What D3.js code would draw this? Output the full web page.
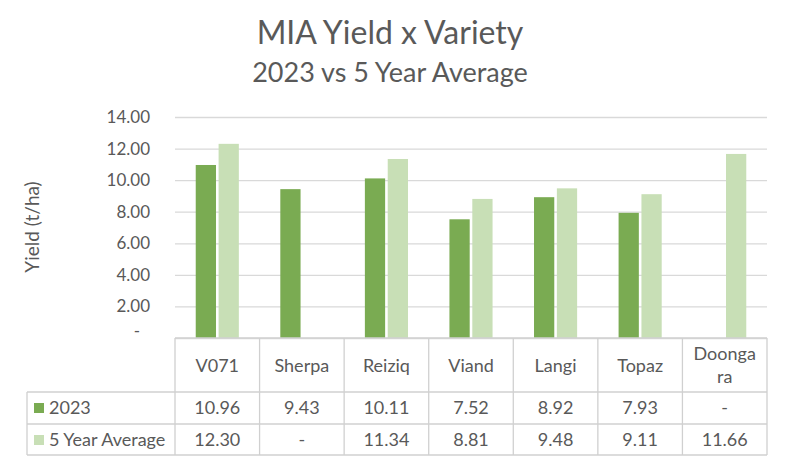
<!DOCTYPE html>
<html><head><meta charset="utf-8">
<script src="https://cdn.jsdelivr.net/npm/d3@7"></script>
<style>body{margin:0;background:#fff}svg{display:block}text{font-family:Lato,"Open Sans",sans-serif;fill:#595959}</style>
</head><body>
<svg id="c" width="785" height="462"></svg>
<script>
const categories = ["V071","Sherpa","Reiziq","Viand","Langi","Topaz","Doongara"];
const categoryLabels = [["V071"],["Sherpa"],["Reiziq"],["Viand"],["Langi"],["Topaz"],["Doonga","ra"]];
const seriesNames = ["2023","5 Year Average"];
const values2023 = [10.96, 9.43, 10.11, 7.52, 8.92, 7.93, null];
const valuesAvg = [12.30, null, 11.34, 8.81, 9.48, 9.11, 11.66];
const yTicks = [0,2,4,6,8,10,12,14];
const colors = ["#7aab52","#c8dfb6"];

(function(){
const svg = d3.select("#c");
const pL = 175, pR = 767, pT = 117, pB = 338;
const x = d3.scaleBand().domain(categories).range([pL, pR]).padding(0);
const x1 = d3.scaleBand().domain(seriesNames).range([0, x.bandwidth()]).paddingInner(0.114).paddingOuter(0.907);
const y = d3.scaleLinear().domain([0,14]).range([pB, pT]);
const seriesVals = [values2023, valuesAvg];

svg.append("text").attr("x",390).attr("y",44).attr("text-anchor","middle").style("font-size","32px").text("MIA Yield x Variety");
svg.append("text").attr("x",390).attr("y",82).attr("text-anchor","middle").style("font-size","27px").text("2023 vs 5 Year Average");

const yAxis = d3.axisLeft(y).tickValues(yTicks).tickSize(-(pR-pL)).tickFormat(d => d===0 ? "-" : d.toFixed(2));
const ga = svg.append("g").attr("transform",`translate(${pL},0)`).call(yAxis);
ga.select(".domain").remove();
ga.selectAll(".tick line").attr("stroke","#d9d9d9").attr("stroke-width",1.3);
ga.selectAll(".tick text").attr("x",-25).style("font-size","17px").attr("fill","#595959").style("font-family","Lato,'Open Sans',sans-serif");
ga.selectAll(".tick").filter(d=>d===0).select("text").attr("x",-35).attr("dy","-0.1em");

svg.append("text").attr("transform","translate(39,227) rotate(-90)").attr("text-anchor","middle").style("font-size","19px").text("Yield (t/ha)");

seriesNames.forEach((s,si)=>{
  svg.append("g").selectAll("rect").data(categories.map((c,i)=>({c,v:seriesVals[si][i]})).filter(d=>d.v!=null))
    .join("rect")
    .attr("x",d=>x(d.c)+x1(s)).attr("width",x1.bandwidth())
    .attr("y",d=>y(d.v)).attr("height",d=>y(0)-y(d.v)).attr("fill",colors[si]);
});

const tl = svg.append("g").attr("stroke","#d0d0d0").attr("stroke-width",1.3);
tl.append("line").attr("x1",pL).attr("x2",pR).attr("y1",pB).attr("y2",pB);
[392,424,455].forEach(yy=>tl.append("line").attr("x1",27).attr("x2",pR).attr("y1",yy).attr("y2",yy));
categories.forEach(c=>tl.append("line").attr("x1",x(c)).attr("x2",x(c)).attr("y1",pB).attr("y2",455));
tl.append("line").attr("x1",pR).attr("x2",pR).attr("y1",pB).attr("y2",455);
tl.append("line").attr("x1",27).attr("x2",27).attr("y1",392).attr("y2",455);

categories.forEach((c,i)=>{
  const cx = x(c)+x.bandwidth()/2;
  const lines = categoryLabels[i];
  lines.forEach((l,li)=>{
    const yy = lines.length===1 ? 372 : 360+li*23;
    svg.append("text").attr("x",cx).attr("y",yy).attr("text-anchor","middle").style("font-size","18px").text(l);
  });
  seriesVals.forEach((vals,si)=>{
    const v = vals[i];
    svg.append("text").attr("x",cx).attr("y",si===0?414:446).attr("text-anchor","middle").style("font-size","18px")
      .text(v==null ? "-" : v.toFixed(2));
  });
});
seriesNames.forEach((s,si)=>{
  const yy = si===0?414:446;
  svg.append("rect").attr("x",34).attr("y",yy-11).attr("width",10).attr("height",10).attr("fill",colors[si]);
  svg.append("text").attr("x",49).attr("y",yy).style("font-size","18px").text(s);
});
})();
</script>
</body></html>
